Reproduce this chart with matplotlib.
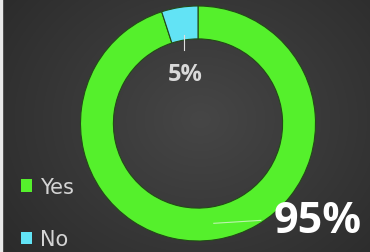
import numpy as np
import matplotlib
matplotlib.use("Agg")
import matplotlib.pyplot as plt
from matplotlib.colors import LinearSegmentedColormap

# Data
labels = ["Yes", "No"]
values = [95, 5]
colors = ["#55f02c", "#62e3f5"]

plt.rcParams['font.family'] = ['Open Sans', 'DejaVu Sans']

W, H = 370, 253
fig = plt.figure(figsize=(W / 100, H / 100), dpi=100)

# Background: dark radial gradient
bg = fig.add_axes([0, 0, 1, 1])
yy, xx = np.mgrid[0:H, 0:W]
d = np.sqrt(((xx - 200) / 260.0) ** 2 + ((yy - 120) / 220.0) ** 2)
cmap = LinearSegmentedColormap.from_list("bg", ["#464646", "#383838", "#2a2a2a"])
bg.imshow(d, cmap=cmap, vmin=0, vmax=1.0, aspect="auto", extent=[0, W, H, 0])
bg.axvspan(0, 2, color="#e8e8e8")
bg.set_xlim(0, W)
bg.set_ylim(H, 0)
bg.axis("off")

# Donut
cx, cy, r = 198, 124.5, 117.5
ax = fig.add_axes([(cx - r) / W, (H - cy - r) / H, 2 * r / W, 2 * r / H])
ax.set_facecolor("none")
wedges, _ = ax.pie(values, colors=colors, startangle=90, counterclock=False,
                   radius=1.0,
                   wedgeprops=dict(width=0.28, edgecolor="#234a18", linewidth=0.8))
ax.set_xlim(-1, 1)
ax.set_ylim(-1, 1)
ax.set_aspect("equal")
ax.axis("off")

# Labels with leader lines
for w, v in zip(wedges, values):
    ang = np.deg2rad((w.theta1 + w.theta2) / 2)
    ca, sa = np.cos(ang), np.sin(ang)
    if v < 50:
        ax.plot([0.74 * ca, 0.74 * ca], [0.76 * sa, 0.63 * sa], color="#e0e0e0", lw=0.8)
        ax.text(0.74 * ca + 0.01, 0.43 * sa, f"{v}%", ha="center", va="center",
                fontsize=17, fontweight="bold", color="#d9d9d9")
    else:
        x0, y0 = 0.86 * ca, 0.86 * sa
        ax.plot([x0, x0 + 0.40], [y0, y0 + 0.025], color="#d8f5d0", lw=0.8, alpha=0.8)
        ax.text(x0 + 0.51, y0 + 0.02, f"{v}%", ha="left", va="center",
                fontsize=31, fontweight="bold", color="white", clip_on=False)

leg = fig.legend(wedges, labels, loc="center left",
                 bbox_to_anchor=(21 / W, 1 - 214 / H), frameon=False,
                 prop={"family": "DejaVu Sans", "size": 15}, labelspacing=1.55,
                 handlelength=0.55, handleheight=0.55, handletextpad=0.35,
                 borderpad=0, borderaxespad=0)
for t in leg.get_texts():
    t.set_color("#d4d4d4")
for hnd in leg.legend_handles:
    hnd.set_edgecolor("none")

fig.savefig("out.png", dpi=100)
